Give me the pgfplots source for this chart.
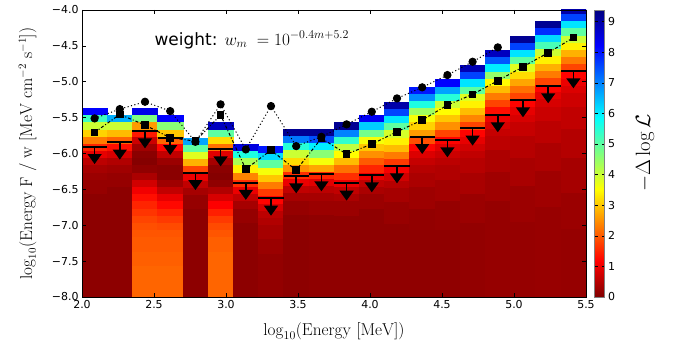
\documentclass[border=0pt]{standalone}
\usepackage[no-math]{fontspec}
\setmainfont{DejaVu Sans}
\usepackage{pgfplots}
\usepackage{pgfplotstable}
\pgfplotsset{compat=1.18}
\usetikzlibrary{arrows.meta}

\newcommand\cellcol[3]{%
  \gdef\cbuf{}%
  \foreach \yy/\cc in {#3}{%
    \xdef\cbuf{\cbuf (#1,\yy) [\cc] (#2,\yy) [\cc]}%
  }%
  \edef\cdo{\noexpand\addplot[heat] coordinates {\cbuf};}%
  \cdo
}

\pgfplotstableread{
x y
2.0875 -5.907
2.2625 -5.845
2.4375 -5.688
2.6125 -5.781
2.7875 -6.269
2.9625 -5.939
3.1375 -6.406
3.3125 -6.626
3.4875 -6.315
3.6625 -6.287
3.8375 -6.417
4.0125 -6.301
4.1875 -6.176
4.3625 -5.767
4.5375 -5.813
4.7125 -5.650
4.8875 -5.464
5.0625 -5.255
5.2375 -5.060
5.4125 -4.851
}\ultab

\begin{document}
\begin{tikzpicture}
\useasboundingbox (0,0) rectangle (680bp,348bp);
\begin{axis}[
  name=main,
  at={(82bp,51bp)}, anchor=south west,
  scale only axis, width=504bp, height=287bp,
  xmin=2, xmax=5.5, ymin=-8, ymax=-4,
  axis on top,
  heat/.style={surf, shader=flat corner, mesh/cols=2, point meta=explicit, forget plot},
  colormap={jetr}{rgb255(0cm)=(128,0,0); rgb255(1cm)=(255,0,0); rgb255(3cm)=(255,255,0); rgb255(5cm)=(0,255,255); rgb255(7cm)=(0,0,255); rgb255(8cm)=(0,0,128)},
  point meta min=0, point meta max=9.38,
  xtick={2,2.5,3,3.5,4,4.5,5,5.5},
  xticklabels={2.0,2.5,3.0,3.5,4.0,4.5,5.0,5.5},
  ytick={-8,-7.5,-7,-6.5,-6,-5.5,-5,-4.5,-4},
  yticklabels={−8.0,−7.5,−7.0,−6.5,−6.0,−5.5,−5.0,−4.5,−4.0},
  ticklabel style={font=\fontsize{11}{12}\selectfont},
  major tick length=4bp,
  tick style={black, line width=0.6bp},
  axis line style={line width=0.8bp},
  xlabel={$\log_{10}(\mathrm{Energy\ [MeV]})$},
  xlabel style={at={(axis description cs:0.5,-0.12)}, anchor=center, font=\fontsize{16.5}{18}\selectfont},
  ylabel={$\log_{10}(\mathrm{Energy\ F\ /\ w\ [MeV\ cm^{-2}\ s^{-1}]})$},
  ylabel style={at={(axis description cs:-0.108,0.5)}, anchor=center, font=\fontsize{16}{18}\selectfont},
  colorbar,
  colorbar style={
    at={(parent axis.south east)}, anchor=south west, xshift=0bp,
    scale only axis, width=10bp, height=287bp,
    ytick={0,1,2,3,4,5,6,7,8,9},
    yticklabels={0,1,2,3,4,5,6,7,8,9},
    yticklabel style={font=\fontsize{11}{12}\selectfont},
    major tick length=3bp,
    axis line style={gray},
  },
]
\cellcol{2}{2.175}{-5.37/8.2, -5.47/5.3, -5.57/4.0, -5.67/3.1, -5.77/2.3, -5.87/1.5, -5.97/0.95, -6.07/0.55, -6.17/0.35, -6.27/0.25, -6.37/0.2, -6.57/0.12, -8/0.12}
\cellcol{2.175}{2.35}{-5.47/6.6, -5.57/4.0, -5.67/2.9, -5.77/2.1, -5.87/1.3, -5.97/0.8, -6.07/0.45, -6.17/0.3, -6.27/0.2, -6.47/0.12, -8/0.12}
\cellcol{2.35}{2.525}{-5.37/8.4, -5.47/4.7, -5.57/2.6, -5.67/1.4, -5.77/0.7, -5.87/0.3, -5.97/0.1, -6.07/0.05, -6.17/0.15, -6.27/0.4, -6.37/0.75, -6.47/1.05, -6.57/1.3, -6.67/1.5, -6.77/1.65, -6.87/1.8, -6.97/1.9, -7.07/1.95, -7.17/2.0, -7.37/2.05, -7.57/2.1, -8/2.1}
\cellcol{2.525}{2.7}{-5.47/8.2, -5.57/4.6, -5.67/3.0, -5.77/2.1, -5.87/1.2, -5.97/0.6, -6.07/0.25, -6.17/0.1, -6.27/0.1, -6.37/0.3, -6.47/0.6, -6.57/0.95, -6.67/1.25, -6.77/1.5, -6.87/1.7, -6.97/1.85, -7.07/1.95, -7.17/2.0, -7.37/2.05, -7.57/2.1, -8/2.1}
\cellcol{2.7}{2.875}{-5.78/6.7, -5.88/5.0, -5.98/3.8, -6.08/2.8, -6.18/1.8, -6.28/1.0, -6.38/0.6, -6.48/0.35, -6.58/0.2, -6.78/0.12, -8/0.12}
\cellcol{2.875}{3.05}{-5.57/8.8, -5.67/5.0, -5.77/3.2, -5.87/2.2, -5.97/0.9, -6.07/0.35, -6.17/0.1, -6.27/0.05, -6.37/0.15, -6.47/0.45, -6.57/0.8, -6.67/1.15, -6.77/1.45, -6.87/1.7, -6.97/1.85, -7.07/1.95, -7.17/2.05, -7.37/2.1, -8/2.1}
\cellcol{3.05}{3.225}{-5.87/8.5, -5.97/5.6, -6.07/4.3, -6.17/3.4, -6.27/2.4, -6.37/1.6, -6.47/1.0, -6.57/0.6, -6.67/0.35, -6.77/0.2, -6.97/0.12, -8/0.12}
\cellcol{3.225}{3.4}{-5.9/8.0, -6.0/6.2, -6.1/5.0, -6.2/3.6, -6.3/3.0, -6.4/2.3, -6.5/1.7, -6.6/1.2, -6.7/0.8, -6.8/0.55, -6.9/0.45, -7.0/0.35, -7.2/0.25, -7.4/0.18, -8/0.18}
\cellcol{3.4}{3.575}{-5.66/9.2, -5.76/7.1, -5.86/5.5, -5.96/4.0, -6.06/3.2, -6.16/2.5, -6.26/1.6, -6.36/1.0, -6.46/0.6, -6.56/0.35, -6.66/0.2, -6.86/0.12, -8/0.12}
\cellcol{3.575}{3.75}{-5.66/9.2, -5.76/7.5, -5.86/6.0, -5.96/4.6, -6.06/3.6, -6.16/2.7, -6.26/1.5, -6.36/0.9, -6.46/0.55, -6.56/0.35, -6.66/0.25, -6.86/0.15, -8/0.15}
\cellcol{3.75}{3.925}{-5.57/9.2, -5.67/7.0, -5.77/5.4, -5.87/4.1, -5.97/3.5, -6.07/2.9, -6.17/2.2, -6.27/1.6, -6.37/1.0, -6.47/0.6, -6.57/0.4, -6.67/0.25, -6.87/0.15, -8/0.15}
\cellcol{3.925}{4.1}{-5.47/8.3, -5.57/6.3, -5.67/4.8, -5.77/3.6, -5.87/3.0, -5.97/2.5, -6.07/2.0, -6.17/1.5, -6.27/1.0, -6.37/0.6, -6.47/0.4, -6.57/0.25, -6.77/0.15, -8/0.15}
\cellcol{4.1}{4.275}{-5.28/9.0, -5.38/7.6, -5.48/6.1, -5.58/5.0, -5.68/3.9, -5.78/3.4, -5.88/2.9, -5.98/2.3, -6.08/1.7, -6.18/1.1, -6.28/0.75, -6.38/0.5, -6.48/0.35, -6.68/0.22, -6.98/0.15, -8/0.15}
\cellcol{4.275}{4.45}{-5.07/8.0, -5.17/6.9, -5.27/5.6, -5.37/4.4, -5.47/3.6, -5.57/3.1, -5.67/2.6, -5.77/1.9, -5.87/1.2, -5.97/0.85, -6.07/0.65, -6.17/0.5, -6.27/0.4, -6.47/0.28, -6.77/0.18, -7.07/0.15, -8/0.15}
\cellcol{4.45}{4.625}{-4.97/8.2, -5.07/6.7, -5.17/5.5, -5.27/4.0, -5.37/3.5, -5.47/3.0, -5.57/2.5, -5.67/1.8, -5.77/1.2, -5.87/0.9, -5.97/0.7, -6.07/0.55, -6.17/0.45, -6.37/0.32, -6.67/0.2, -7.07/0.15, -8/0.15}
\cellcol{4.625}{4.8}{-4.77/8.9, -4.87/7.6, -4.97/6.1, -5.07/5.0, -5.17/3.8, -5.27/3.4, -5.37/2.9, -5.47/2.4, -5.57/1.8, -5.67/1.2, -5.77/0.95, -5.87/0.75, -5.97/0.6, -6.07/0.5, -6.27/0.38, -6.57/0.25, -6.97/0.18, -8/0.18}
\cellcol{4.8}{4.975}{-4.56/8.8, -4.66/7.4, -4.76/6.0, -4.86/4.5, -4.96/3.5, -5.06/2.9, -5.16/2.3, -5.26/1.8, -5.36/1.3, -5.46/1.0, -5.56/0.8, -5.66/0.65, -5.76/0.55, -5.96/0.42, -6.26/0.3, -6.66/0.2, -8/0.2}
\cellcol{4.975}{5.15}{-4.36/9.2, -4.46/7.6, -4.56/6.1, -4.66/5.0, -4.76/3.8, -4.86/3.2, -4.96/2.7, -5.06/2.2, -5.16/1.8, -5.26/1.2, -5.36/0.95, -5.46/0.8, -5.56/0.65, -5.76/0.5, -6.06/0.38, -6.46/0.26, -6.96/0.2, -8/0.2}
\cellcol{5.15}{5.325}{-4.15/9.2, -4.25/7.8, -4.35/6.2, -4.45/5.2, -4.55/4.0, -4.65/3.4, -4.75/2.8, -4.85/2.3, -4.95/1.8, -5.05/1.2, -5.15/0.95, -5.25/0.8, -5.35/0.68, -5.55/0.55, -5.85/0.42, -6.25/0.3, -6.75/0.22, -8/0.22}
\cellcol{5.325}{5.5}{-3.96/9.0, -4.06/7.6, -4.16/6.1, -4.26/5.0, -4.36/4.0, -4.46/3.4, -4.56/2.8, -4.66/2.3, -4.76/1.8, -4.86/1.2, -4.96/1.0, -5.06/0.85, -5.16/0.72, -5.36/0.6, -5.66/0.48, -6.06/0.35, -6.56/0.25, -7.06/0.2, -8/0.2}

% upper limits: bar and arrow
\addplot[black, line width=2bp, quiver={u=0.175, v=0}] table[x expr=\thisrow{x}-0.0875, y=y] {\ultab};
\addplot[black, line width=1.5bp, quiver={u=0, v=-0.24}, -{Triangle[width=14bp, length=10bp]}] table[x=x, y=y] {\ultab};

% circles
\addplot[black, line width=1bp, dash pattern=on 1.1bp off 2.4bp, mark=*, mark size=3.6bp, mark options={solid}] coordinates {
(2.0875,-5.511) (2.2625,-5.381) (2.4375,-5.279) (2.6125,-5.409) (2.7875,-5.837)
(2.9625,-5.315) (3.1375,-5.943) (3.3125,-5.339) (3.4875,-5.897) (3.6625,-5.767)
(3.8375,-5.594) (4.0125,-5.418) (4.1875,-5.232) (4.3625,-5.078) (4.5375,-4.907)
(4.7125,-4.721) (4.8875,-4.521)
};
% squares
\addplot[black, line width=1bp, dash pattern=on 3bp off 2bp on 1bp off 2bp, mark=square*, mark size=3.3bp, mark options={solid}] coordinates {
(2.0875,-5.706) (2.2625,-5.455) (2.4375,-5.604) (2.6125,-5.781) (2.7875,-5.827)
(2.9625,-5.464) (3.1375,-6.218) (3.3125,-5.953) (3.4875,-6.232) (3.6625,-5.789)
(3.8375,-6.008) (4.0125,-5.869) (4.1875,-5.697) (4.3625,-5.534) (4.5375,-5.325)
(4.7125,-5.176) (4.8875,-4.986) (5.0625,-4.791) (5.2375,-4.596) (5.4125,-4.386)
};

\node[anchor=base west, font=\fontsize{17}{19}\selectfont] at (axis cs:2.48,-4.488) {weight: $w_m\;=10^{-0.4m+5.2}$};
\end{axis}
\node[rotate=90, text=black, font=\fontsize{22}{24}\selectfont] at (645bp,195bp) {$-\Delta\log\mathcal{L}$};
\end{tikzpicture}
\end{document}
